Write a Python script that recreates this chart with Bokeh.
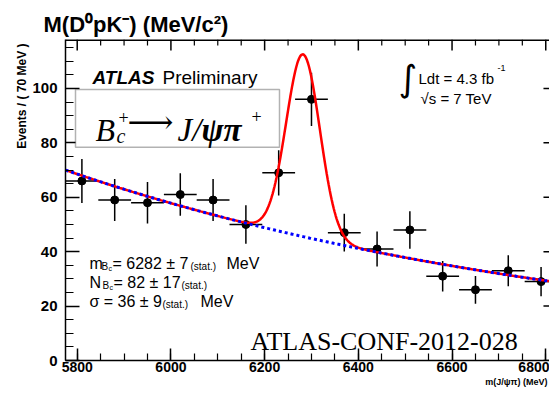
import numpy as np
from bokeh.plotting import figure
from bokeh.models import Range1d, SingleIntervalTicker, Label, BoxAnnotation, ColumnDataSource, Title
from bokeh.embed import file_html
from bokeh.resources import INLINE

# ---- data ----
bin_centers = [5810, 5880, 5950, 6020, 6090, 6160, 6230, 6300, 6370, 6440, 6510, 6580, 6650, 6720, 6790]
events = [66, 59, 58, 61, 59, 50, 69, 96, 47, 41, 48, 31, 26, 33, 29]
event_errors = [8.1, 7.7, 7.6, 7.8, 7.7, 7.1, 8.3, 9.8, 6.9, 6.4, 6.9, 5.6, 5.1, 5.7, 5.4]
bin_width = 70
x_major_ticks = [5800, 6000, 6200, 6400, 6600, 6800]
y_major_ticks = [0, 20, 40, 60, 80, 100]
x_minor_step = 50
y_minor_step = 5

# fit model parameters (signal gaussian + exponential background)
fit_mass = 6282
fit_sigma = 36
fit_peak = 67
bkg_at_start = 70
bkg_decay = 0.000848

# full histogram range; the picture is cropped a little before the right edge
HIST_MIN, HIST_MAX = 5775, 6825
XMIN, XMAX = 5775, 6808
YMIN, YMAX = 0, 118

# ---- layout (figure pixels) ----
W, H = 549, 387
FL, FR, FT, FB = 65, 549, 39, 360
REF_FT, REF_FB = 39, 373   # frame top/bottom in the reference picture


def px(xp):
    return XMIN + (xp - FL) * (XMAX - XMIN) / (FR - FL)


def py(yp_ref):
    # vertical position given in reference pixels, rescaled to this frame
    yp = FT + (yp_ref - REF_FT) * (FB - FT) / (REF_FB - REF_FT)
    return YMAX - (yp - FT) * (YMAX - YMIN) / (FB - FT)


def dx(pixels):
    return pixels * (XMAX - XMIN) / (FR - FL)


def dy(pixels):
    return pixels * (YMAX - YMIN) / (FB - FT)


p = figure(width=W, height=H, x_range=Range1d(XMIN, XMAX), y_range=Range1d(YMIN, YMAX),
           output_backend="svg", toolbar_location=None,
           min_border_left=FL, min_border_right=0, min_border_top=FT, min_border_bottom=H - FB)
p.grid.visible = False
p.outline_line_color = None
p.background_fill_color = "white"
p.border_fill_color = "white"

SANS = "Liberation Sans"
SERIF = "Liberation Serif"

# title
p.title.text = "M(D⁰pK⁻) (MeV/c²)"
p.title.align = "left"
p.title.offset = -22
p.title.standoff = 6
p.title.text_font = SANS
p.title.text_font_size = "22px"
p.title.text_font_style = "bold"
p.title.text_color = "black"


def style_axis(ax, interval, major_len, minor_len):
    ax.ticker = SingleIntervalTicker(interval=interval, num_minor_ticks=4)
    ax.major_tick_in = major_len
    ax.major_tick_out = 0
    ax.minor_tick_in = minor_len
    ax.minor_tick_out = 0
    ax.axis_line_width = 1.5
    ax.major_tick_line_width = 1.5
    ax.minor_tick_line_width = 1.2
    ax.axis_line_color = "black"
    ax.major_label_text_font = SANS
    ax.major_label_text_font_style = "bold"
    ax.major_label_text_color = "black"


xa = p.xaxis[0]
style_axis(xa, 200, 12, 7)
xa.major_label_text_font_size = "14px"
xa.major_label_standoff = 1

ya = p.yaxis[0]
style_axis(ya, 20, 14, 8)
ya.major_label_text_font_size = "15px"
ya.major_label_standoff = 8

ytitle = Title(text="Events / ( 70 MeV )", align="right", text_font=SANS, text_font_size="12px",
               text_font_style="bold", text_color="black", standoff=1, offset=4)
p.add_layout(ytitle, "left")

xtitle = Title(text="m(J/ψπ) (MeV)", align="right", text_font=SANS, text_font_size="9px",
               text_font_style="bold", text_color="black", standoff=0, offset=2)
p.add_layout(xtitle, "below")

# top frame line and mirrored ticks (top and right edges of the histogram frame)
x_minor = [v for v in range(x_major_ticks[0], x_major_ticks[-1] + 1, x_minor_step) if v not in x_major_ticks]
y_minor = [v for v in range(0, YMAX + 1, y_minor_step) if v not in y_major_ticks]
p.segment(x0=[XMIN], x1=[XMAX], y0=[YMAX], y1=[YMAX], line_color="black", line_width=3)
p.segment(x0=x_major_ticks, x1=x_major_ticks, y0=[YMAX] * len(x_major_ticks),
          y1=[YMAX - dy(11)] * len(x_major_ticks), line_color="black", line_width=1.5)
p.segment(x0=x_minor, x1=x_minor, y0=[YMAX] * len(x_minor),
          y1=[YMAX - dy(6)] * len(x_minor), line_color="black", line_width=1.2)
p.segment(x0=[HIST_MAX - dx(14)] * len(y_major_ticks), x1=[HIST_MAX] * len(y_major_ticks),
          y0=y_major_ticks, y1=y_major_ticks, line_color="black", line_width=1.5)
p.segment(x0=[HIST_MAX - dx(7)] * len(y_minor), x1=[HIST_MAX] * len(y_minor),
          y0=y_minor, y1=y_minor, line_color="black", line_width=1.2)

# ---- data points with error bars ----
src = ColumnDataSource(dict(
    x=bin_centers, y=events,
    x0=[c - bin_width / 2 for c in bin_centers], x1=[c + bin_width / 2 for c in bin_centers],
    y0=[v - e for v, e in zip(events, event_errors)], y1=[v + e for v, e in zip(events, event_errors)],
))
p.segment(x0="x", x1="x", y0="y0", y1="y1", source=src, line_color="black", line_width=1.5)
p.segment(x0="x0", x1="x1", y0="y", y1="y", source=src, line_color="black", line_width=1.5)
p.scatter(x="x", y="y", source=src, marker="circle", size=8, color="black")

# ---- fit curves ----
xs = np.linspace(HIST_MIN, HIST_MAX, 500)
bkg = bkg_at_start * np.exp(-bkg_decay * (xs - HIST_MIN))
total = bkg + fit_peak * np.exp(-0.5 * ((xs - fit_mass) / fit_sigma) ** 2)
p.line(xs, total, line_color="#ff0000", line_width=2.5)
p.line(xs, bkg, line_color="#0000ff", line_width=3, line_dash="3 3")


def lab(x, y, text, size, font=SANS, style="normal", align="left", baseline="alphabetic"):
    p.add_layout(Label(x=px(x), y=py(y), text=text, text_font=font, text_font_size=f"{size}px",
                       text_font_style=style, text_align=align, text_baseline=baseline,
                       text_color="black"))


# ATLAS Preliminary
lab(92, 79, "ATLAS", 19, style="bold italic")
lab(162, 79, "Preliminary", 19)

# decay box
p.add_layout(BoxAnnotation(left=px(75), right=px(279), top=py(91), bottom=py(151),
                           fill_color="white", fill_alpha=1.0, line_color="black", line_width=1.5))
lab(95, 133, "B", 32, font=SERIF, style="italic")
lab(118, 120, "+", 18, font=SERIF)
lab(116, 139, "c", 20, font=SERIF, style="italic")
lab(127, 125, "⟶", 32, font="DejaVu Serif", baseline="middle")
lab(177, 133, "J/", 33, font=SERIF, style="italic")
lab(201, 133, "ψπ", 33, font=SERIF, style="bold italic")
lab(251, 119, "+", 18, font=SERIF)

# luminosity
lab(398, 80, "∫", 36, font="DejaVu Sans", baseline="middle")
lab(418, 80, "Ldt = 4.3 fb", 15)
lab(497, 69, "-1", 9)
lab(420, 100, "√s = 7 TeV", 15)

# fit results
lab(89, 272, "m", 16)
lab(101, 275, "B", 10)
lab(108, 277, "c", 7)
lab(112, 272, "= 6282 ± 7", 16)
lab(190, 275, "(stat.)", 10)
lab(226, 272, "MeV", 16)

lab(89, 292, "N", 16)
lab(102, 295, "B", 10)
lab(109, 297, "c", 7)
lab(113, 292, "= 82 ± 17", 16)
lab(181, 295, "(stat.)", 10)

lab(89, 312, "σ = 36 ± 9", 16)
lab(162, 315, "(stat.)", 10)
lab(200, 312, "MeV", 16)

lab(250, 353, "ATLAS-CONF-2012-028", 26, font=SERIF)

open("out.html", "w").write(file_html(p, INLINE))
